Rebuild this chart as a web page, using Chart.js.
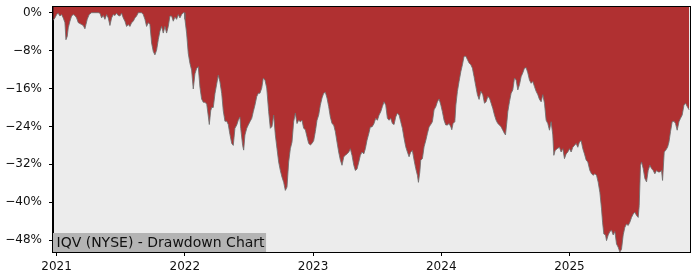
<!DOCTYPE html>
<html>
<head>
<meta charset="utf-8">
<title>IQV Drawdown</title>
<script src="https://cdn.jsdelivr.net/npm/chart.js@4.4.1/dist/chart.umd.min.js"></script>
<style>
  html, body { margin: 0; padding: 0; background: #fff; }
</style>
</head>
<body>
<canvas id="dd-chart" width="700" height="280"></canvas>
<script>
/* IQV drawdown */

// time axis as decimal years
const times = [
  2020.974, 2020.987, 2021.000, 2021.012, 2021.026, 2021.039, 2021.052, 2021.065, 2021.073, 2021.083,
  2021.091, 2021.104, 2021.117, 2021.130, 2021.143, 2021.156, 2021.169, 2021.182, 2021.195, 2021.208,
  2021.221, 2021.229, 2021.239, 2021.254, 2021.273, 2021.299, 2021.325, 2021.338, 2021.351, 2021.364,
  2021.377, 2021.390, 2021.403, 2021.416, 2021.429, 2021.442, 2021.455, 2021.468, 2021.481, 2021.494,
  2021.507, 2021.520, 2021.533, 2021.546, 2021.559, 2021.572, 2021.585, 2021.598, 2021.611, 2021.624,
  2021.637, 2021.650, 2021.663, 2021.676, 2021.689, 2021.702, 2021.715, 2021.728, 2021.741, 2021.754,
  2021.767, 2021.780, 2021.793, 2021.806, 2021.819, 2021.832, 2021.845, 2021.858, 2021.871, 2021.884,
  2021.897, 2021.910, 2021.923, 2021.936, 2021.949, 2021.962, 2021.975, 2021.988, 2021.996,
  2022.001, 2022.014, 2022.027, 2022.040, 2022.053, 2022.066, 2022.079, 2022.092, 2022.105, 2022.118,
  2022.131, 2022.144, 2022.157, 2022.171, 2022.183, 2022.191, 2022.202, 2022.210, 2022.222, 2022.235,
  2022.249, 2022.261, 2022.274, 2022.288, 2022.300, 2022.313, 2022.327, 2022.339, 2022.352, 2022.366,
  2022.378, 2022.391, 2022.405, 2022.417, 2022.430, 2022.436, 2022.451, 2022.459, 2022.469, 2022.483,
  2022.495, 2022.508, 2022.522, 2022.534, 2022.547, 2022.561, 2022.573, 2022.586, 2022.600, 2022.612,
  2022.625, 2022.639, 2022.654, 2022.667, 2022.680, 2022.693, 2022.706, 2022.719, 2022.732, 2022.745,
  2022.758, 2022.771, 2022.784, 2022.797, 2022.810, 2022.823, 2022.836, 2022.849, 2022.862, 2022.875,
  2022.888, 2022.901, 2022.914, 2022.927, 2022.940, 2022.953, 2022.966, 2022.979, 2022.992,
  2023.005, 2023.018, 2023.031, 2023.044, 2023.057, 2023.070, 2023.083, 2023.096, 2023.109, 2023.122,
  2023.135, 2023.148, 2023.161, 2023.174, 2023.187, 2023.200, 2023.213, 2023.226, 2023.240, 2023.252,
  2023.265, 2023.279, 2023.291, 2023.304, 2023.318, 2023.330, 2023.343, 2023.357, 2023.369, 2023.382,
  2023.396, 2023.408, 2023.421, 2023.435, 2023.447, 2023.460, 2023.474, 2023.489, 2023.502, 2023.515,
  2023.528, 2023.541, 2023.554, 2023.567, 2023.580, 2023.593, 2023.606, 2023.619, 2023.632, 2023.645,
  2023.658, 2023.671, 2023.684, 2023.697, 2023.710, 2023.723, 2023.736, 2023.749, 2023.762, 2023.775,
  2023.788, 2023.801, 2023.814, 2023.822, 2023.833, 2023.840, 2023.853, 2023.866, 2023.879, 2023.892,
  2023.905, 2023.918, 2023.931, 2023.944, 2023.958, 2023.970, 2023.983, 2023.997,
  2024.009, 2024.022, 2024.035, 2024.048, 2024.061, 2024.075, 2024.082, 2024.092, 2024.106, 2024.114,
  2024.126, 2024.139, 2024.153, 2024.165, 2024.178, 2024.192, 2024.204, 2024.217, 2024.231, 2024.243,
  2024.256, 2024.270, 2024.282, 2024.295, 2024.309, 2024.324, 2024.337, 2024.350, 2024.363, 2024.376,
  2024.389, 2024.402, 2024.415, 2024.428, 2024.441, 2024.454, 2024.467, 2024.480, 2024.493, 2024.501,
  2024.512, 2024.519, 2024.532, 2024.545, 2024.558, 2024.571, 2024.584, 2024.597, 2024.610, 2024.623,
  2024.636, 2024.649, 2024.662, 2024.675, 2024.688, 2024.701, 2024.714, 2024.727, 2024.740, 2024.753,
  2024.766, 2024.779, 2024.792, 2024.805, 2024.818, 2024.831, 2024.844, 2024.857, 2024.870, 2024.878,
  2024.888, 2024.904, 2024.922, 2024.935, 2024.948, 2024.961, 2024.974, 2024.987,
  2025.000, 2025.013, 2025.026, 2025.039, 2025.052, 2025.065, 2025.078, 2025.091, 2025.104, 2025.117,
  2025.130, 2025.143, 2025.159, 2025.172, 2025.185, 2025.198, 2025.211, 2025.224, 2025.237, 2025.250,
  2025.258, 2025.268, 2025.281, 2025.289, 2025.302, 2025.315, 2025.328, 2025.341, 2025.354, 2025.367,
  2025.380, 2025.393, 2025.406, 2025.419, 2025.432, 2025.445, 2025.458, 2025.471, 2025.484, 2025.497,
  2025.510, 2025.523, 2025.536, 2025.544, 2025.554, 2025.562, 2025.575, 2025.588, 2025.601, 2025.614,
  2025.627, 2025.640, 2025.653, 2025.666, 2025.679, 2025.692, 2025.705, 2025.718, 2025.726, 2025.739,
  2025.749, 2025.765, 2025.776, 2025.788, 2025.801, 2025.815, 2025.827, 2025.840, 2025.854, 2025.866,
  2025.879, 2025.893, 2025.905, 2025.918, 2025.933
];

// drawdown from running peak, in %
const drawdown = [
  -1.6, -1.1, -0.4, -0.1, -0.7, -0.4, -1.1, -2.1, -5.7, -5.0,
  -3.2, -1.8, -0.7, -0.4, -0.6, -1.1, -2.1, -2.3, -2.5, -2.7,
  -3.4, -2.5, -1.4, -0.4, 0, 0, 0, -0.1, -1.1, -0.6,
  -1.4, -0.4, -1.1, -2.7, -1.1, -0.4, -0.6, -0.1, -0.6, -0.7,
  -0.1, -1.1, -1.8, -2.9, -2.5, -2.9, -2.1, -1.8, -1.1, -0.7,
  0, 0, 0, -0.4, -1.4, -2.9, -2.1, -2.5, -6.4, -8.2,
  -8.9, -7.9, -5.7, -3.9, -2.9, -4.3, -2.9, -4.3, -2.9, -0.7,
  -0.7, -1.8, -0.9, -1.4, -0.4, -1.1, -0.4, 0, 0,
  -1.4, -4.3, -8.6, -10.7, -12.1, -16.1, -12.9, -11.8, -11.4, -15.7,
  -18.2, -18.9, -18.9, -19.3, -21.8, -23.6, -20.7, -20.0, -20.0, -17.1,
  -15.0, -13.2, -14.6, -17.1, -20.7, -22.9, -22.9, -23.6, -25.7, -27.6,
  -28.0, -24.4, -23.7, -22.7, -22.0, -24.4, -28.0, -29.0, -25.8, -24.4,
  -23.7, -23.0, -22.3, -20.9, -19.5, -17.7, -17.0, -17.0, -15.9, -13.8,
  -14.2, -15.9, -20.9, -24.4, -24.0, -21.6, -25.8, -28.7, -31.5, -33.3,
  -34.7, -35.8, -37.5, -36.8, -31.5, -28.7, -27.3, -23.0, -21.2, -23.4,
  -22.7, -23.0, -22.7, -24.4, -24.7, -26.2, -27.6, -27.9, -27.6,
  -27.0, -25.1, -22.7, -21.6, -19.5, -18.0, -17.0, -16.8, -18.0, -19.8,
  -22.0, -23.4, -23.7, -25.1, -27.3, -29.4, -31.1, -32.2, -30.4, -30.1,
  -29.8, -29.4, -28.7, -30.1, -32.2, -33.3, -33.0, -31.5, -30.1, -29.4,
  -29.8, -28.7, -26.9, -25.5, -24.1, -24.1, -23.5, -22.3, -22.7, -21.6,
  -20.9, -19.8, -18.8, -19.5, -22.3, -22.7, -22.3, -23.4, -23.6, -22.0,
  -21.2, -21.6, -23.0, -24.4, -26.5, -28.3, -29.4, -30.4, -29.4, -29.1,
  -31.1, -32.9, -34.3, -35.8, -33.6, -31.1, -30.8, -28.3, -27.0, -25.5,
  -24.1, -23.6, -23.0, -20.5, -19.8, -18.8, -18.2, -19.5,
  -20.9, -22.7, -23.7, -23.7, -23.4, -24.1, -24.7, -23.4, -23.0, -19.5,
  -16.6, -14.5, -12.4, -11.0, -9.2, -9.2, -9.9, -10.6, -11.0, -11.7,
  -13.5, -15.6, -17.3, -18.3, -16.6, -17.3, -19.1, -18.8, -17.7, -18.0,
  -19.1, -20.2, -21.6, -22.7, -23.4, -23.7, -24.1, -24.8, -25.5, -25.8,
  -23.0, -20.9, -18.8, -17.0, -16.3, -13.8, -14.2, -16.3, -15.2, -13.5,
  -12.7, -11.7, -11.6, -12.7, -14.2, -14.9, -14.5, -15.6, -16.6, -17.3,
  -18.3, -18.8, -17.3, -19.1, -22.7, -23.4, -24.8, -23.0, -25.8, -30.1,
  -29.1, -28.7, -28.4, -29.4, -28.7, -30.8, -29.8, -29.4,
  -28.7, -29.4, -28.4, -28.0, -27.6, -28.4, -27.3, -27.0, -28.7, -29.8,
  -31.1, -31.5, -33.3, -34.0, -34.3, -34.0, -34.3, -35.8, -37.9, -41.4,
  -44.2, -46.7, -46.9, -48.1, -46.9, -46.2, -45.9, -46.9, -46.2, -48.8,
  -49.5, -50.5, -49.9, -46.9, -45.3, -44.6, -44.9, -44.2, -43.2, -42.5,
  -42.1, -42.8, -43.2, -40.7, -32.2, -31.5, -32.9, -35.0, -35.7, -33.3,
  -32.2, -32.9, -33.3, -34.0, -33.3, -33.6, -33.6, -33.3, -35.4, -29.4,
  -29.1, -28.4, -27.3, -25.1, -23.0, -22.9, -23.4, -24.8, -23.0, -22.3,
  -21.6, -19.5, -19.1, -19.8, -20.5
];

const yearTicks = [2021, 2022, 2023, 2024, 2025];
const pctTicks = [0, -8, -16, -24, -32, -40, -48];
const chartTitle = "IQV (NYSE) - Drawdown Chart";

const FONT = "'DejaVu Sans', sans-serif";

// grey plot background + black frame + title box
const framePlugin = {
  id: "frame",
  beforeDraw(chart) {
    const { ctx, chartArea: a } = chart;
    ctx.save();
    ctx.fillStyle = "#ececec";
    ctx.fillRect(a.left, a.top, a.right - a.left, a.bottom - a.top);
    ctx.restore();
  },
  afterDraw(chart) {
    const { ctx, chartArea: a } = chart;
    ctx.save();
    // title label
    ctx.font = "14px " + FONT;
    const w = ctx.measureText(chartTitle).width;
    ctx.fillStyle = "#b4b4b4";
    ctx.fillRect(a.left, a.bottom - 19, w + 5, 19);
    ctx.fillStyle = "#111";
    ctx.textBaseline = "alphabetic";
    ctx.fillText(chartTitle, a.left + 3.5, a.bottom - 4.7);
    // frame
    ctx.strokeStyle = "#000";
    ctx.lineWidth = 1;
    ctx.strokeRect(a.left - 0.5, a.top - 0.5, a.right - a.left + 1, a.bottom - a.top + 1);
    ctx.restore();
  }
};

const points = times.map((t, i) => ({ x: t, y: drawdown[i] }));

new Chart(document.getElementById("dd-chart"), {
  type: "line",
  data: {
    datasets: [{
      data: points,
      borderColor: "rgba(110,110,110,0.85)",
      borderWidth: 1,
      backgroundColor: "#b03031",
      fill: "end",
      pointRadius: 0,
      tension: 0
    }]
  },
  options: {
    responsive: false,
    animation: false,
    devicePixelRatio: 1,
    layout: { padding: { left: 0, right: 10, top: 7, bottom: 0 } },
    plugins: { legend: { display: false }, tooltip: { enabled: false } },
    scales: {
      x: {
        type: "linear",
        min: 2020.972,
        max: 2025.94,
        afterBuildTicks: axis => { axis.ticks = yearTicks.map(v => ({ value: v })); },
        afterFit: axis => { axis.height = 28; axis.paddingLeft = 0; axis.paddingRight = 0; },
        ticks: {
          callback: v => String(v),
          color: "#111",
          font: { family: FONT, size: 12 },
          padding: 4,
          maxRotation: 0
        },
        grid: { drawOnChartArea: false, drawTicks: true, tickLength: 4, tickColor: "#000" },
        border: { display: true, color: "#000", width: 1 }
      },
      y: {
        min: -50.5,
        max: 1.2,
        afterBuildTicks: axis => { axis.ticks = pctTicks.map(v => ({ value: v })); },
        afterFit: axis => { axis.width = 53; axis.paddingTop = 0; axis.paddingBottom = 0; },
        ticks: {
          callback: v => (v < 0 ? "\u2212" + Math.abs(v) : v) + "%",
          color: "#111",
          font: { family: FONT, size: 12 },
          padding: 7
        },
        grid: { drawOnChartArea: false, drawTicks: true, tickLength: 4, tickColor: "#000" },
        border: { display: true, color: "#000", width: 1 }
      }
    }
  },
  plugins: [framePlugin]
});
</script>
</body>
</html>
